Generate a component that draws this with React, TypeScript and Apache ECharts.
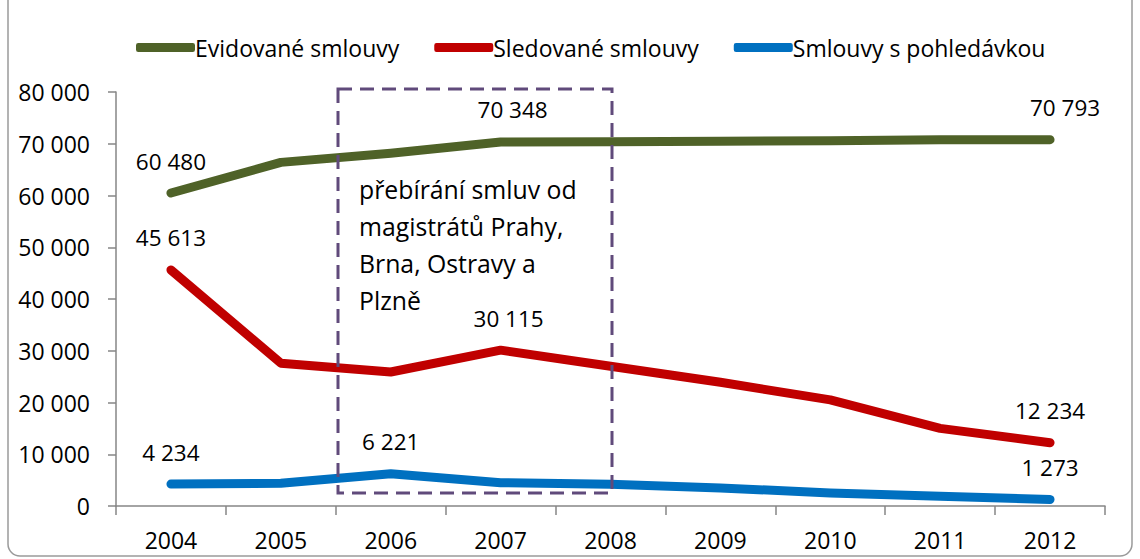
import React, { useEffect, useRef } from "react";
import * as echarts from "echarts";

const years = ["2004", "2005", "2006", "2007", "2008", "2009", "2010", "2011", "2012"];
const evidovane = [60480, 66400, 68150, 70348, 70400, 70500, 70600, 70750, 70793];
const sledovane = [45613, 27600, 25900, 30115, 27000, 23900, 20500, 15000, 12234];
const pohledavky = [4234, 4400, 6221, 4500, 4200, 3500, 2500, 1900, 1273];
const evidLabelIdx = [0, 3, 8];
const sledLabelIdx = [0, 3, 8];
const pohlLabelIdx = [0, 2, 8];
const boxText = ["přebírání smluv od", "magistrátů Prahy,", "Brna, Ostravy a", "Plzně"];

const FONT = "'Open Sans', 'Noto Sans', sans-serif";
const fmt = (v: number) => String(Math.round(v)).replace(/\B(?=(\d{3})+(?!\d))/g, " ");

function withLabels(values: number[], idx: number[], shifts: Record<number, number> = {}) {
  return values.map((v, i) => ({
    value: v,
    label: { show: idx.includes(i), offset: [shifts[i] || 0, 0] },
  }));
}

export default function App() {
  const ref = useRef<HTMLDivElement>(null);
  useEffect(() => {
    if (!ref.current) return;
    const chart = echarts.init(ref.current, null, { renderer: "svg" });
    const mkSeries = (
      name: string,
      color: string,
      data: number[],
      idx: number[],
      shifts: Record<number, number> = {}
    ) => ({
      name,
      type: "line",
      data: withLabels(data, idx, shifts),
      showSymbol: true,
      symbol: "circle",
      symbolSize: 1,
      lineStyle: { color, width: 9, cap: "round", join: "round" },
      itemStyle: { color },
      label: {
        show: false,
        position: "top",
        distance: 20,
        color: "#000",
        fontSize: 22.5,
        fontFamily: FONT,
        formatter: (p: any) => fmt(p.value),
      },
    });
    chart.setOption({
      animation: false,
      backgroundColor: "#fff",
      legend: {
        top: 31,
        left: 131,
        itemWidth: 59,
        itemHeight: 9,
        itemGap: 35,
        icon: "roundRect",
        textStyle: { fontSize: 23, fontFamily: FONT, color: "#000", padding: [0, 0, 0, -5] },
        data: ["Evidované smlouvy", "Sledované smlouvy", "Smlouvy s pohledávkou"],
      },
      grid: { left: 116, right: 35, top: 92, bottom: 53 },
      xAxis: {
        type: "category",
        data: years,
        boundaryGap: true,
        axisLine: { lineStyle: { color: "#868686", width: 1.5 } },
        axisTick: { show: true, length: 9, lineStyle: { color: "#868686", width: 1.5 } },
        axisLabel: { fontSize: 23, fontFamily: FONT, color: "#000", margin: 22 },
      },
      yAxis: {
        type: "value",
        min: 0,
        max: 80000,
        interval: 10000,
        splitLine: { show: false },
        axisLine: { show: true, lineStyle: { color: "#868686", width: 1.5 } },
        axisTick: { show: true, length: 8, lineStyle: { color: "#868686", width: 1.5 } },
        axisLabel: {
          fontSize: 23,
          fontFamily: FONT,
          color: "#000",
          margin: 26,
          formatter: (v: number) => fmt(v),
        },
      },
      series: [
        mkSeries("Evidované smlouvy", "#4F6228", evidovane, evidLabelIdx, { 3: 12, 8: 15 }),
        mkSeries("Sledované smlouvy", "#C00000", sledovane, sledLabelIdx, { 3: 8 }),
        mkSeries("Smlouvy s pohledávkou", "#0070C0", pohledavky, pohlLabelIdx),
      ],
      graphic: [
        {
          type: "rect",
          shape: { x: 8, y: -30, width: 1124, height: 586, r: 12 },
          style: { fill: "none", stroke: "#9a9a9a", lineWidth: 1.5 },
          silent: true,
          z: -1,
        },
        {
          type: "rect",
          shape: { x: 338, y: 89, width: 274, height: 404 },
          style: { fill: "none", stroke: "#604A7B", lineWidth: 3, lineDash: [14, 8] },
          silent: true,
          z: 10,
        },
        {
          type: "text",
          left: 359,
          top: 170,
          style: {
            text: boxText.join("\n"),
            fontSize: 24.8,
            lineHeight: 37,
            fontFamily: FONT,
            fill: "#000",
          },
          z: 10,
        },
      ],
    });
    return () => chart.dispose();
  }, []);
  return <div ref={ref} style={{ width: 1140, height: 559, position: "absolute", left: 0, top: 0 }} />;
}
